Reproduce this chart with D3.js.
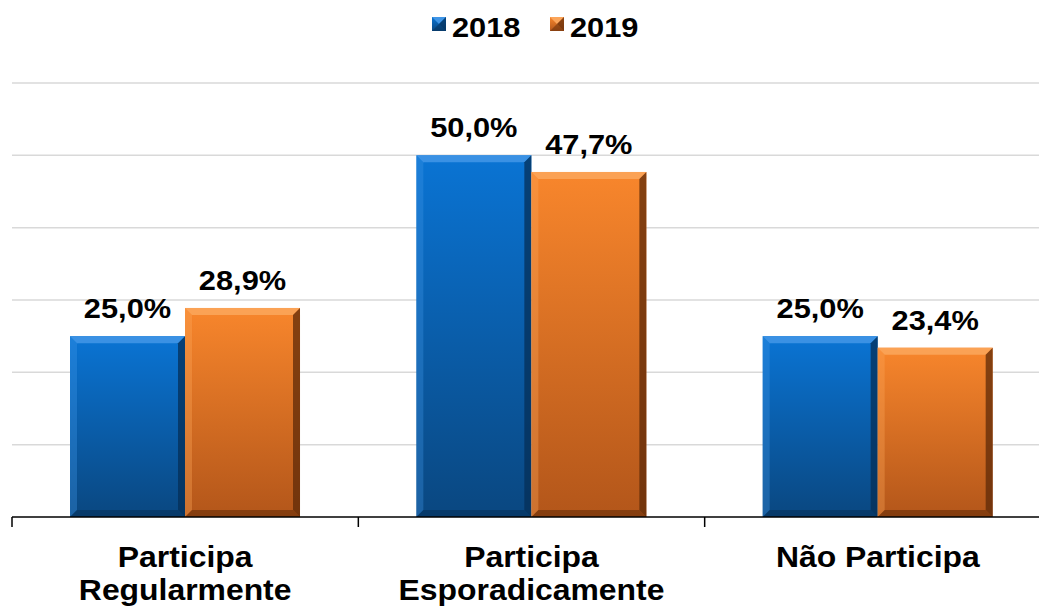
<!DOCTYPE html>
<html><head><meta charset="utf-8">
<script src="https://cdn.jsdelivr.net/npm/d3@7"></script>
<style>html,body{margin:0;padding:0;background:#fff;overflow:hidden}</style>
</head><body><svg id="c" width="1039" height="607"></svg>
<script>
const categories = [["Participa","Regularmente"],["Participa","Esporadicamente"],["Não Participa"]];
const seriesNames = ["2018","2019"];
const values2018 = [25.0, 50.0, 25.0];
const values2019 = [28.9, 47.7, 23.4];
const yTicks = [10,20,30,40,50,60];

const W = 1039, H = 607;
const svg = d3.select("#c");
const defs = svg.append("defs");
const pal = {
  "2018": {top:"#0a74d4", bot:"#0a4780", light:"#3f95e6", dark:"#062f57", side:"#0b62b4"},
  "2019": {top:"#f8862c", bot:"#b3561a", light:"#fba55a", dark:"#5e2a08", side:"#e4781f"}
};
seriesNames.forEach(s=>{
  const g = defs.append("linearGradient").attr("id","g"+s).attr("x1",0).attr("y1",0).attr("x2",0).attr("y2",1);
  g.append("stop").attr("offset","0%").attr("stop-color",pal[s].top);
  g.append("stop").attr("offset","100%").attr("stop-color",pal[s].bot);
});

const x0 = d3.scaleBand().domain(d3.range(categories.length)).range([12, 1051]).padding(0);
const x1 = d3.scaleBand().domain(seriesNames).range([x0.bandwidth()*0.1675, x0.bandwidth()*0.8316]).padding(0);
const y = d3.scaleLinear().domain([0,60]).range([517,83]);

// gridlines
svg.append("g").selectAll("line").data(yTicks).join("line")
  .attr("x1",12).attr("x2",W).attr("y1",d=>y(d)).attr("y2",d=>y(d))
  .attr("stroke","#d9d9d9").attr("stroke-width",1.5);

const data = [];
categories.forEach((c,i)=>{
  data.push({i, s:"2018", v:values2018[i]});
  data.push({i, s:"2019", v:values2019[i]});
});

const b = 7;
svg.append("g").selectAll("g").data(data).join("g")
  .each(function(d){
    const g = d3.select(this);
    const xl = x0(d.i)+x1(d.s), xr = xl + x1.bandwidth();
    const yt = y(d.v), yb = y(0);
    const p = pal[d.s];
    g.append("rect").attr("x",xl).attr("y",yt).attr("width",xr-xl).attr("height",yb-yt).attr("fill","url(#g"+d.s+")");
    const poly = (pts, fill, op)=> g.append("polygon").attr("points",pts.map(q=>q.join(",")).join(" ")).attr("fill",fill).attr("opacity",op);
    poly([[xl,yt],[xr,yt],[xr-b,yt+b],[xl+b,yt+b]], p.light, 0.9);
    poly([[xl,yt],[xl+b,yt+b],[xl+b,yb-b],[xl,yb]], p.light, 0.35);
    poly([[xr,yt],[xr,yb],[xr-b,yb-b],[xr-b,yt+b]], p.dark, 0.75);
    poly([[xl,yb],[xl+b,yb-b],[xr-b,yb-b],[xr,yb]], p.dark, 0.55);
  });

// value labels
const fmt = v => v.toFixed(1).replace(".",",")+"%";
svg.append("g").selectAll("text").data(data).join("text")
  .attr("transform",d=>`translate(${x0(d.i)+x1(d.s)+x1.bandwidth()/2},${y(d.v)-18}) scale(1.1,1)`)
  .attr("text-anchor","middle").attr("font-family","Liberation Sans, Arial, sans-serif")
  .attr("font-weight","bold").attr("font-size",28).attr("fill","#000")
  .text(d=>fmt(d.v));

// axis baseline
svg.append("line").attr("x1",12).attr("x2",W).attr("y1",y(0)).attr("y2",y(0)).attr("stroke","#000").attr("stroke-width",1.5);
svg.append("g").selectAll("line").data(d3.range(categories.length+1)).join("line")
  .attr("x1",d=>12+d*x0.step()).attr("x2",d=>12+d*x0.step())
  .attr("y1",y(0)).attr("y2",y(0)+10).attr("stroke","#000").attr("stroke-width",1.5);

// category labels
const cl = svg.append("g").selectAll("text").data(categories).join("text")
  .attr("transform",(d,i)=>`translate(${x0(i)+x0.bandwidth()/2},567) scale(1.1,1)`)
  .attr("text-anchor","middle").attr("font-family","Liberation Sans, Arial, sans-serif")
  .attr("font-weight","bold").attr("font-size",29).attr("fill","#000");
cl.each(function(d){
  d3.select(this).selectAll("tspan").data(d).join("tspan").attr("x",0).attr("dy",(t,j)=>j===0?0:33).text(t=>t);
});

// legend
const legX = [432, 550];
const leg = svg.append("g").selectAll("g").data(seriesNames).join("g")
  .attr("transform",(d,i)=>`translate(${legX[i]},17)`);
leg.each(function(s){
  const g = d3.select(this), p = pal[s], w=14;
  g.append("rect").attr("width",w).attr("height",w).attr("fill","url(#g"+s+")");
  g.append("polygon").attr("points",`0,0 ${w},0 ${w/2},${w/2}`).attr("fill",p.light);
  g.append("polygon").attr("points",`${w},0 ${w},${w} ${w/2},${w/2}`).attr("fill",p.dark).attr("opacity",0.7);
  g.append("polygon").attr("points",`0,${w} ${w},${w} ${w/2},${w/2}`).attr("fill",p.dark).attr("opacity",0.5);
  g.append("text").attr("transform",`translate(${w+6},${w+6}) scale(1.1,1)`)
    .attr("font-family","Liberation Sans, Arial, sans-serif").attr("font-weight","bold").attr("font-size",28).attr("fill","#000").text(s);
});
</script></body></html>
